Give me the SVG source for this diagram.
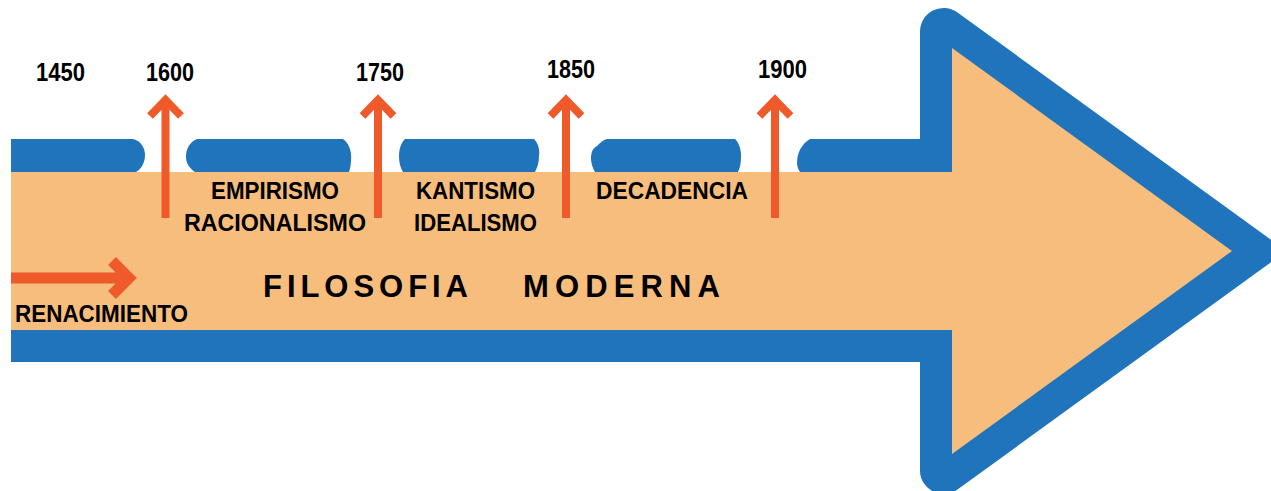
<svg xmlns="http://www.w3.org/2000/svg" width="1271" height="491" viewBox="0 0 1271 491">
<style>
.blue{fill:#1F74BC}
.body{fill:#F6BD7C}
.yr{font-family:"Liberation Sans",Arial,sans-serif;font-weight:bold;font-size:26px;fill:#000}
.lbl{font-family:"Liberation Sans",Arial,sans-serif;font-weight:bold;font-size:23px;fill:#000}
.title{font-family:"Liberation Sans",Arial,sans-serif;font-weight:bold;font-size:31px;fill:#000}
.arr{fill:none;stroke:#EE5A2A;stroke-linejoin:miter;stroke-linecap:butt}
</style>
<rect width="1271" height="491" fill="#fff"/>
<g id="timeline-arrow">
  <path class="blue" d="M11,139 H133 C141,141 145,148 145,155 C145,163 141,169 136,172 H11 Z"/>
  <path class="blue" d="M197,139 H343 C349,143 352,152 351,160 C351,165 350,169 349,172 H195 C189,168 186,163 186,157 C186,148 190,142 197,139 Z"/>
  <path class="blue" d="M405,139 H534 C538,143 540,149 539,156 C539,163 537,168 535,172 H403 C400,167 399,162 399,156 C399,149 401,143 405,139 Z"/>
  <path class="blue" d="M607,139 H735 C739,143 741,149 741,156 C741,163 740,168 738,172 H595 C592,167 591,162 591,158 C591,152 593,148 597,146 C600,143 603,140 607,139 Z"/>
  <path class="blue" d="M810,139 H930 V172 H800 C798,169 797,166 797,163 C797,152 802,144 810,139 Z"/>
  <path class="blue" d="M920,172 V31.6 A23.6,23.6 0 0 1 957.5,12.5 L1286.5,251 L957.5,489.5 A23.6,23.6 0 0 1 920,470.4 V330 Z"/>
  <rect class="blue" x="11" y="330" width="915" height="32"/>
  <path class="body" d="M11,172 H952 V48 L1232,251 L952,454 V330 H11 Z"/>
</g>
<g id="years">
  <text class="yr" x="36" y="81" textLength="49" lengthAdjust="spacingAndGlyphs">1450</text>
  <text class="yr" x="146" y="81" textLength="48" lengthAdjust="spacingAndGlyphs">1600</text>
  <text class="yr" x="356" y="81" textLength="48" lengthAdjust="spacingAndGlyphs">1750</text>
  <text class="yr" x="547" y="78" textLength="48" lengthAdjust="spacingAndGlyphs">1850</text>
  <text class="yr" x="758" y="78" textLength="49" lengthAdjust="spacingAndGlyphs">1900</text>
</g>
<g id="periods">
  <text class="lbl" x="211" y="199" textLength="128" lengthAdjust="spacingAndGlyphs">EMPIRISMO</text>
  <text class="lbl" x="184" y="231" textLength="182" lengthAdjust="spacingAndGlyphs">RACIONALISMO</text>
  <text class="lbl" x="416" y="199" textLength="119" lengthAdjust="spacingAndGlyphs">KANTISMO</text>
  <text class="lbl" x="414" y="231" textLength="123" lengthAdjust="spacingAndGlyphs">IDEALISMO</text>
  <text class="lbl" x="596" y="199" textLength="152" lengthAdjust="spacingAndGlyphs">DECADENCIA</text>
  <text class="lbl" x="15" y="322" textLength="173" lengthAdjust="spacingAndGlyphs">RENACIMIENTO</text>
</g>
<g id="title">
  <text class="title" x="263" y="297" textLength="205" lengthAdjust="spacing">FILOSOFIA</text>
  <text class="title" x="523" y="297" textLength="197" lengthAdjust="spacing">MODERNA</text>
</g>
<g id="connectors">
  <g stroke-width="8" class="arr">
    <path class="arr" d="M165.5,218 V98 M150,116 L165.5,100 L181,116"/>
    <path class="arr" d="M378,218 V98 M362.5,116 L378,100 L393.5,116"/>
    <path class="arr" d="M566,218 V98 M550.5,116 L566,100 L581.5,116"/>
    <path class="arr" d="M775,218 V98 M759.5,116 L775,100 L790.5,116"/>
  </g>
  <path class="arr" stroke-width="11" d="M11,278 H128 M112,261 L129,278 L112,295"/>
</g>
</svg>
